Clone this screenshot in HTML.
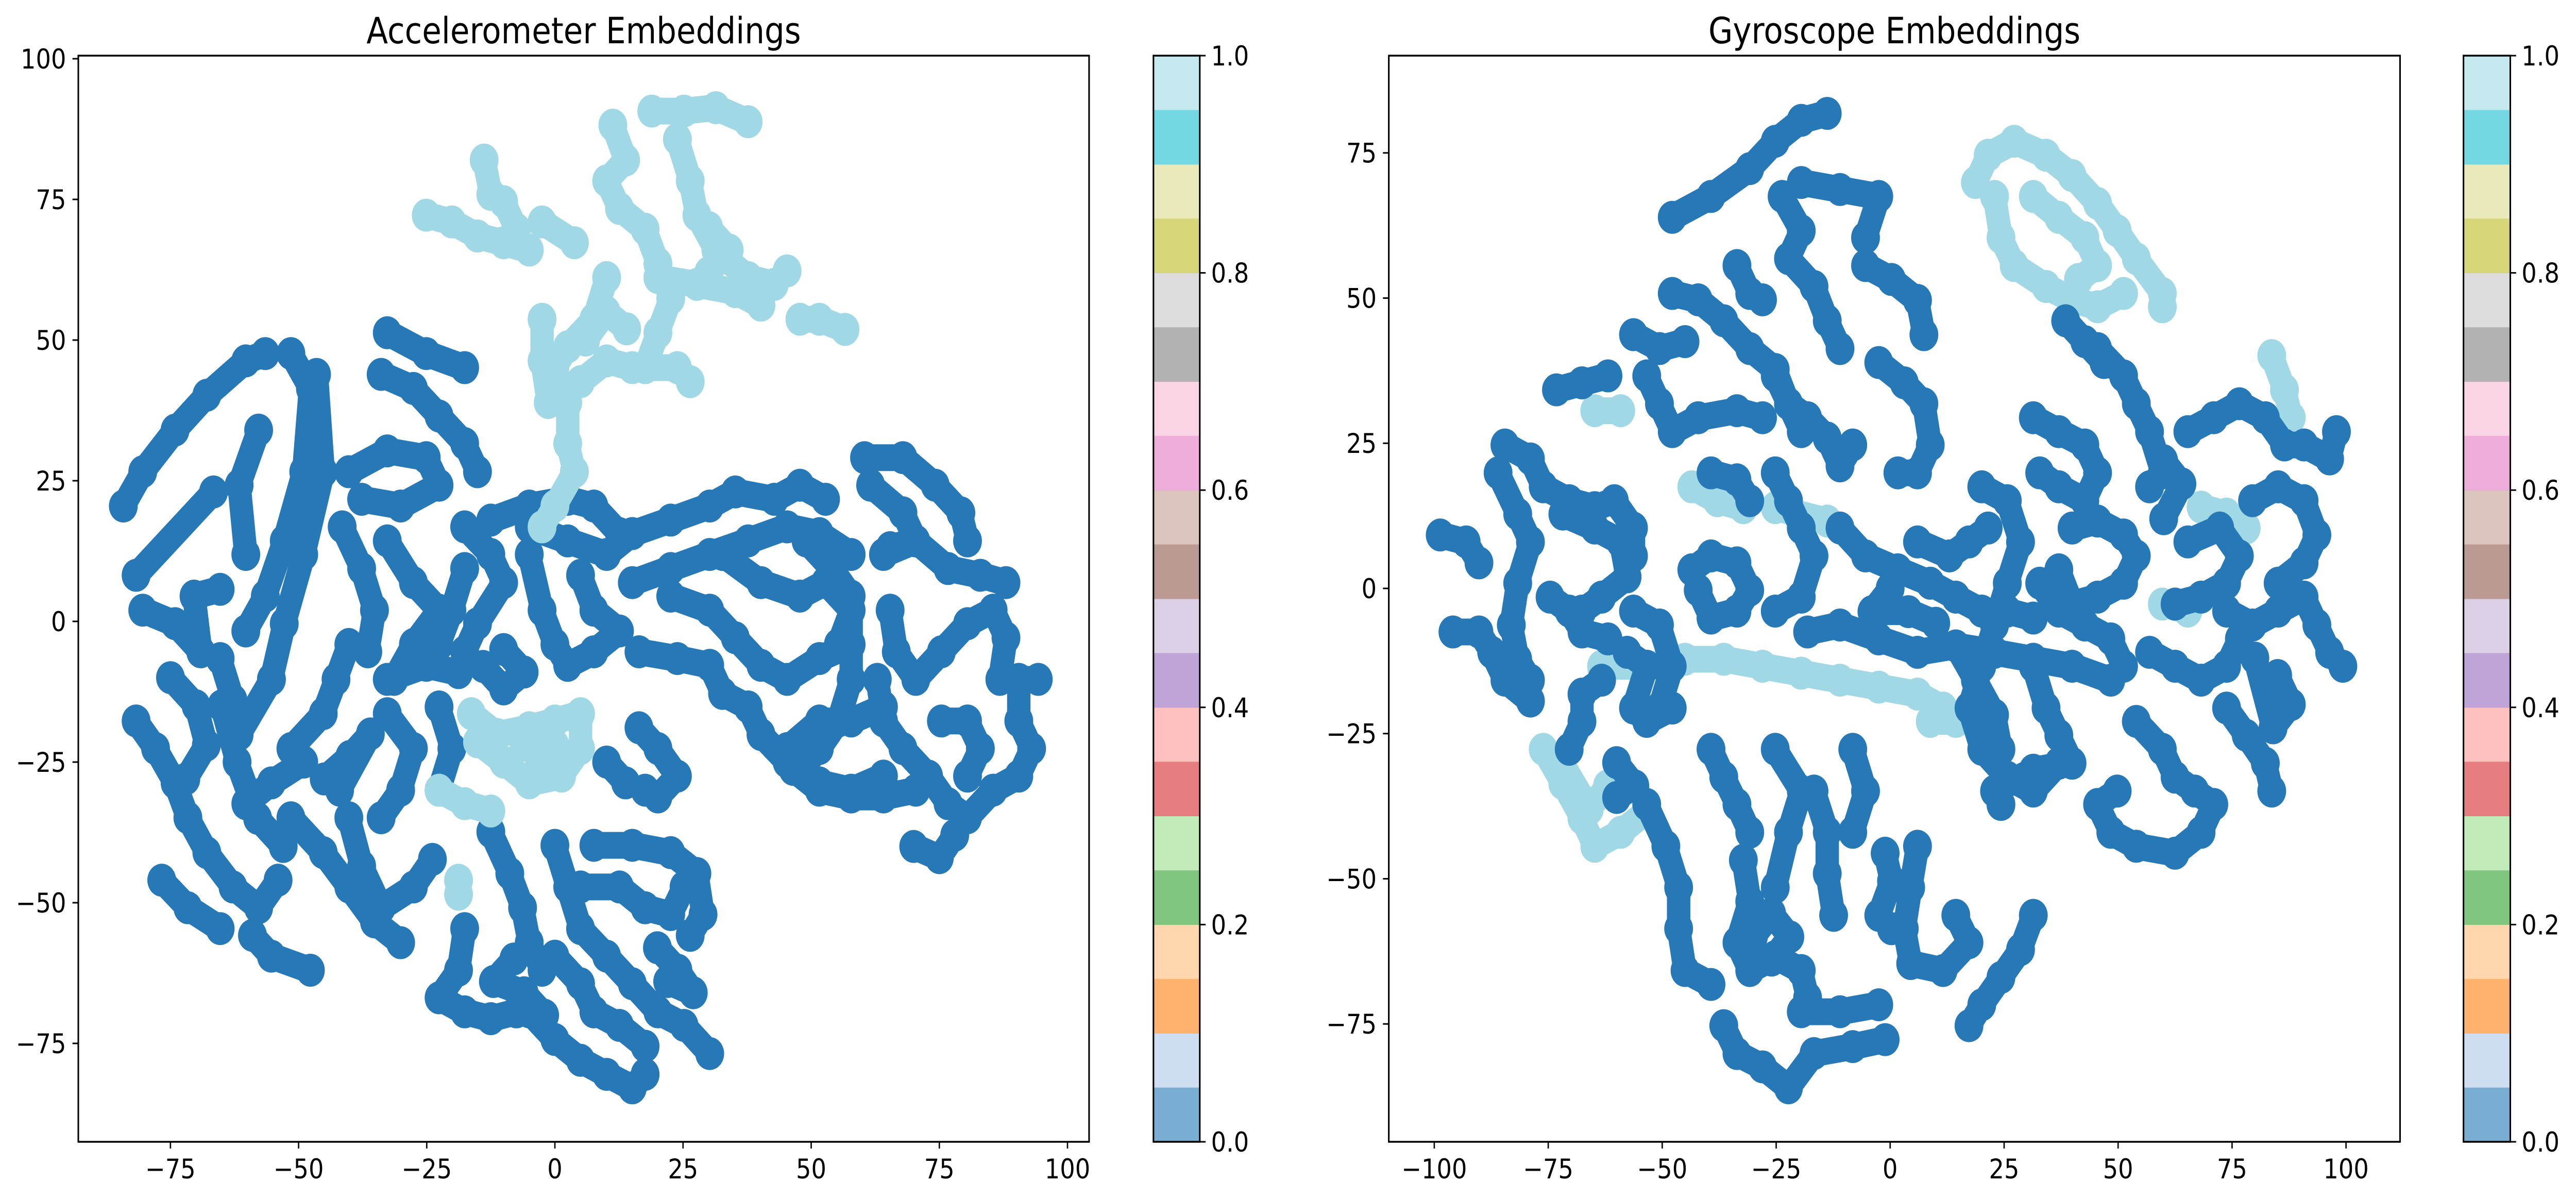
<!DOCTYPE html>
<html><head><meta charset="utf-8"><style>
html,body{margin:0;padding:0;background:#fff;width:100%;height:100%;overflow:hidden;}
svg{display:block;width:100vw;height:100vh;}
svg text{font-family:"DejaVu Sans","Liberation Sans",sans-serif;fill:#000;}
</style></head><body>
<svg id="fig" xmlns="http://www.w3.org/2000/svg" viewBox="0 0 5724 2327" preserveAspectRatio="none">
<rect x="0" y="0" width="5724" height="2327" fill="#fff"/>
<g id="left"></g>
<g id="right"></g>
</svg>
<script>
// ---- data ----
const leftXTicks=[-75,-50,-25,0,25,50,75,100];
const leftYTicks=[-75,-50,-25,0,25,50,75,100];
const rightXTicks=[-100,-75,-50,-25,0,25,50,75,100];
const rightYTicks=[-75,-50,-25,0,25,50,75];
const cbTicks=[0.0,0.2,0.4,0.6,0.8,1.0];
const cbColors=["#1f77b4","#aec7e8","#ff7f0e","#ffbb78","#2ca02c","#98df8a","#d62728","#ff9896","#9467bd","#c5b0d5","#8c564b","#c49c94","#e377c2","#f7b6d2","#7f7f7f","#c7c7c7","#bcbd22","#dbdb8d","#17becf","#9edae5"];
const accDark=[
[[-84.2,20.5],[-80.4,26.6],[-74.1,34],[-67.9,40.2],[-60.3,46.3],[-56.5,47.6]],
[[-51.5,47.6],[-47.7,41.4],[-49,26.6],[-52.8,14.3],[-56.5,4.5],[-60.3,-1.7]],
[[-81.7,8.2],[-66.6,23]],
[[-57.8,34],[-61.6,24.2],[-60.3,11.9]],
[[-46.5,43.9],[-45.2,26.6],[-49,11.9],[-52.8,-0.4],[-55.3,-10.3]],
[[-80.4,2],[-74.1,-0.4],[-69.1,-5.4],[-70.4,4.5],[-65.3,5.7]],
[[-81.7,-17.7],[-77.9,-22.6],[-74.1,-28.7],[-71.6,-34.9],[-67.9,-41.1],[-62.8,-47.2],[-57.8,-50.9],[-54,-46]],
[[-76.7,-46],[-71.6,-50.9],[-65.3,-54.6]],
[[-59,-55.8],[-55.3,-59.5],[-47.7,-62]],
[[-65.3,-6.6],[-62.8,-14],[-61.6,-20.1],[-55.3,-10.3]],
[[-51.5,-22.6],[-45.2,-16.4],[-42.7,-10.3],[-40.2,-4.1]],
[[-51.5,-34.9],[-45.2,-41.1],[-40.2,-47.2],[-35.2,-53.4],[-30.1,-57.1]],
[[-60.3,-32.4],[-55.3,-28.7],[-49,-25]],
[[-40.2,-34.9],[-37.7,-43.5],[-33.9,-50.9],[-27.6,-47.2],[-23.9,-42.3]],
[[-32.7,51.3],[-25.1,47.6],[-17.6,45.1]],
[[-33.9,43.9],[-27.6,41.4],[-22.6,36.5],[-17.6,31.6],[-15.1,26.6]],
[[-40.2,26.6],[-32.7,30.3],[-25.1,29.1],[-22.6,24.2],[-30.1,20.5],[-37.7,21.7]],
[[-41.5,16.8],[-37.7,9.4],[-35.2,2],[-36.5,-5.4]],
[[-32.7,14.3],[-27.6,6.9],[-22.6,2],[-27.6,-4.1],[-31.4,-10.3]],
[[-32.7,-10.3],[-25.1,-7.8],[-18.8,-9.1]],
[[-17.6,16.8],[-12.5,11.9],[-10,6.9],[-15.1,-0.4],[-17.6,-5.4]],
[[-5,11.9],[-2.5,2],[0,-4.1],[2.5,-7.8]],
[[-5,16.8],[2.5,14.3],[10.1,11.9],[15.1,15.6]],
[[5,8.2],[7.6,2],[12.6,-1.7],[7.6,-5.4],[2.5,-7.8]],
[[15.1,15.6],[22.6,18],[30.2,20.5],[35.2,23],[42.8,21.7],[47.8,24.2],[52.8,21.7]],
[[15.1,6.9],[22.6,9.4],[30.2,11.9],[37.7,14.3],[45.3,16.8],[51.6,15.6],[57.8,11.9]],
[[16.4,-5.4],[23.9,-6.6],[30.2,-7.8],[32.7,-12.8],[37.7,-15.2],[40.2,-20.1],[45.3,-25],[51.6,-28.7],[57.8,-30],[64.1,-27.5]],
[[22.6,4.5],[30.2,2],[35.2,-2.9],[40.2,-7.8],[45.3,-10.3],[51.6,-6.6],[57.8,-4.1]],
[[32.7,11.9],[40.2,6.9],[47.8,4.5],[52.8,6.9],[57.8,2],[55.3,-4.1]],
[[49,14.3],[54,9.4],[57.8,4.5],[57.8,-10.3],[55.3,-17.7],[51.6,-22.6],[47.8,-26.3]],
[[60.4,29.1],[67.9,29.1],[74.2,24.2],[79.2,19.3],[80.5,14.3]],
[[61.6,24.2],[67.9,19.3],[70.4,14.3],[65.4,13.1]],
[[64.1,11.9],[70.4,14.3],[76.7,9.4],[83,8.2],[88,6.9]],
[[65.4,2],[66.6,-5.4],[70.4,-10.3],[75.4,-5.4],[80.5,-0.4],[85.5,2],[88,-2.9],[86.8,-10.3],[94.3,-10.3]],
[[62.9,-10.3],[64.1,-17.7],[67.9,-22.6],[72.9,-27.5],[76.7,-32.4],[80.5,-34.9],[85.5,-30],[90.5,-27.5],[93,-22.6],[90.5,-17.7],[90.5,-10.3]],
[[75.4,-17.7],[80.5,-17.7],[83,-22.6],[80.5,-27.5]],
[[46.5,-26.3],[51.6,-30],[57.8,-31.2],[64.1,-31.2],[70.4,-30]],
[[45.3,-22.6],[51.6,-17.7],[57.8,-17.7],[64.1,-15.2]],
[[-12.5,-37.4],[-8.8,-44.8],[-6.3,-50.9],[-5,-57.1],[-2.5,-62]],
[[0,-39.8],[2.5,-47.2],[5,-54.6],[10.1,-59.5],[15.1,-64.4],[20.1,-69.4],[25.2,-71.8],[30.2,-76.8]],
[[7.6,-39.8],[15.1,-39.8],[22.6,-41.1],[27.7,-44.8],[28.9,-52.1],[26.4,-55.8]],
[[5,-47.2],[12.6,-47.2],[17.6,-50.9],[22.6,-52.1],[25.2,-47.2]],
[[-17.6,-54.6],[-18.8,-62],[-22.6,-66.9],[-17.6,-69.4],[-12.5,-70.6],[-7.5,-69.4]],
[[-5,-69.4],[0,-74.3],[5,-78],[10.1,-80.5],[15.1,-82.9],[17.6,-80.5]],
[[0,-59.5],[5,-64.4],[7.6,-69.4],[12.6,-71.8],[17.6,-75.5]],
[[16.4,-18.9],[20.1,-22.6],[23.9,-27.5],[20.1,-31.2],[17.6,-30]],
[[10.1,-25],[13.8,-28.7]],
[[-32.7,-16.4],[-27.6,-22.6],[-30.1,-30],[-33.9,-34.9]],
[[-22.6,-15.2],[-20.1,-22.6],[-22.6,-30]],
[[-17.6,9.4],[-20.1,2],[-22.6,-4.1]],
[[-12.5,18],[-5,20.5],[2.5,21.7],[7.6,20.5],[12.6,15.6]],
[[-75,-10],[-70,-15],[-68,-22],[-72,-28]],
[[-45,-28],[-40,-24],[-36,-20],[-42,-30]],
[[-10,-5],[-6,-9],[-10,-12],[-14,-8]],
[[70,-40],[75,-42],[78,-38]],
[[-8,-60],[-12,-64],[-6,-66],[-2,-70]],
[[20,-58],[24,-62],[27,-66],[22,-64]],
[[-65,-15],[-62,-25],[-58,-35],[-53,-40]]
];
const accLight=[
[[-25.1,72.2],[-20.1,71],[-15.1,68.5],[-10,67.3],[-5,66]],
[[-13.8,82],[-12.5,75.9],[-10,74.6],[-7.5,69.7]],
[[-2.5,71],[3.8,67.3]],
[[18.9,90.7],[25.2,90.7],[31.4,91.3],[37.7,88.8]],
[[11.3,88.2],[13.8,82],[10.1,78.3],[12.6,73.4],[17.6,69.7],[20.1,63.6],[22.6,57.4],[20.1,51.3],[17.6,45.1]],
[[23.9,85.7],[26.4,78.3],[27.7,72.2],[31.4,66],[37.7,61.1],[42.8,59.9],[45.3,62.3]],
[[20.1,61.1],[27.7,59.9],[35.2,58.6],[40.2,56.2]],
[[47.8,53.7],[51.6,53.7],[56.6,51.9]],
[[10.1,61.1],[7.6,53.7],[2.5,48.8],[0,45.1],[2.5,38.9],[2.5,31.6],[3.8,26.6],[0,20.5],[-2.5,16.8]],
[[-2.5,53.7],[-2.5,46.3],[-1.3,38.9],[5,42.6],[10.1,46.3],[15.1,45.1],[23.9,45.1],[26.4,42.6]],
[[-16.3,-16.4],[-11.3,-20.1],[-5,-18.9],[0,-17.7],[5,-16.4],[5,-22.6],[1.3,-27.5],[-5,-28.7],[-10,-25],[-15.1,-21.4]],
[[-22.6,-30],[-17.6,-32.4],[-12.5,-33.7]],
[[-18.8,-46],[-18.8,-48.5]],
[[-6,-22],[0,-22],[-3,-25]],
[[6,50],[10,55],[14,52]],
[[30,62],[34,66],[30,70]]
];
const gyroDark=[
[[-47.8,63.9],[-39.3,67.5],[-30.8,72.3],[-25.2,77],[-19.5,80.6],[-13.8,81.8]],
[[-23.7,67.5],[-19.5,61.6],[-22.3,56.8],[-16.7,52],[-13.8,46.1],[-11,41.3]],
[[-19.5,69.9],[-11,68.7],[-2.5,67.5],[-5.4,60.4]],
[[-5.4,55.6],[0.3,53.2],[6,49.6],[7.4,43.7]],
[[-47.8,50.8],[-42.1,49.7],[-36.5,46.1],[-30.8,41.3],[-25.2,37.7],[-22.3,31.8],[-19.5,27]],
[[-33.6,55.6],[-30.8,50.8],[-28,49.7]],
[[-56.3,43.7],[-50.6,41.3],[-45,42.5]],
[[-73.2,34.2],[-67.6,35.4],[-61.9,36.6]],
[[-84.5,24.7],[-78.9,22.3],[-76.1,17.5],[-70.4,15.1],[-64.8,13.9],[-60.5,15.1],[-56.3,10.4],[-56.3,5.6]],
[[-86,19.9],[-81.7,12.8],[-78.9,8],[-81.7,0.9],[-83.1,-6.3],[-81.7,-12.2],[-78.9,-15.8]],
[[-98.7,9.2],[-93,8],[-90.2,4.4]],
[[-95.9,-7.5],[-90.2,-7.5],[-87.4,-11],[-84.5,-15.8],[-78.9,-19.4]],
[[-71.8,12.8],[-64.8,10.4],[-59.1,8],[-57.7,2],[-63.3,-1.5],[-67.6,-3.9]],
[[-74.6,-1.5],[-70.4,-3.9],[-67.6,-7.5],[-61.9,-8.7]],
[[-53.4,-37.2],[-49.2,-44.4],[-46.4,-51.5],[-46.4,-58.6],[-45,-65.8],[-39.3,-68.2]],
[[-70.4,-27.7],[-67.6,-22.9],[-67.6,-18.2],[-63.3,-15.8]],
[[-57.7,-11],[-53.4,-13.4],[-56.3,-20.6],[-53.4,-22.9],[-47.8,-20.6]],
[[-56.3,-3.9],[-50.6,-6.3],[-47.8,-13.4],[-50.6,-20.6]],
[[-43.5,3.2],[-39.3,5.6],[-33.6,4.4],[-30.8,-0.3],[-33.6,-3.9],[-39.3,-5.1],[-42.1,-0.3]],
[[-53.4,36.6],[-50.6,31.8],[-47.8,27],[-42.1,29.4],[-33.6,30.6],[-28,29.4]],
[[-25.2,36.6],[-22.3,31.8],[-18.1,29.4],[-13.8,25.9],[-11,21.1],[-8.2,24.7]],
[[-2.5,38.9],[3.1,35.4],[7.4,31.8],[8.8,24.7],[6,19.9],[1.7,19.9]],
[[-39.3,19.9],[-33.6,18.7],[-30.8,15.1]],
[[-25.2,19.9],[-22.3,15.1],[-19.5,10.4],[-16.7,5.6],[-19.5,-1.5],[-25.2,-3.9]],
[[-11,10.4],[-5.4,5.6],[1.7,3.2],[8.8,0.9],[14.4,-1.5],[20.1,-3.9],[25.7,-3.9],[31.4,-5.1]],
[[-18.1,-7.5],[-11,-6.3],[-2.5,-8.7],[6,-11],[14.4,-9.9],[22.9,-11],[31.4,-12.2],[39.9,-13.4],[48.4,-15.8]],
[[20.1,17.5],[25.7,15.1],[28.6,8],[25.7,0.9],[22.9,-6.3],[20.1,-13.4],[17.3,-20.6],[20.1,-27.7],[25.7,-32.5],[31.4,-34.9],[37,-30.1]],
[[31.4,29.4],[37,27],[42.7,24.7],[45.5,19.9],[42.7,15.1],[37,17.5],[32.8,19.9]],
[[45.5,41.3],[51.2,36.6],[54,31.8],[56.9,27],[59.7,19.9],[56.9,17.5]],
[[38.5,46.1],[42.7,42.5],[46.9,38.9]],
[[39.9,10.4],[45.5,11.6],[51.2,9.2],[54,5.6],[51.2,0.9],[45.5,-1.5],[39.9,-2.7],[37,3.2]],
[[32.8,0.9],[37,-3.9],[42.7,-6.3],[48.4,-8.7],[51.2,-13.4]],
[[31.4,-13.4],[34.2,-20.6],[37,-25.3],[39.9,-30.1],[31.4,-31.3],[22.9,-34.9],[24.3,-37.2]],
[[54,-22.9],[59.7,-27.7],[62.5,-32.5],[66.8,-34.9],[71,-37.2],[68.2,-42],[62.5,-45.6],[54,-44.4],[48.4,-42],[45.5,-37.2],[49.8,-34.9]],
[[56.9,-11],[62.5,-13.4],[68.2,-15.8],[73.8,-13.4],[76.6,-8.7]],
[[65.3,27],[71,29.4],[76.6,31.8],[82.3,29.4],[86.5,24.7],[90.8,24.7],[96.4,22.3],[97.9,27]],
[[65.3,8],[72.3,10.4],[76.6,5.6],[73.8,0.9],[68.2,-1.5],[62.5,-2.7]],
[[73.8,-3.9],[79.5,-6.3],[85.1,-3.9],[90.8,-1.5],[93.6,-6.3],[96.4,-11],[99.3,-13.4]],
[[79.5,15.1],[85.1,17.5],[90.8,15.1],[93.6,9.2],[90.8,4.4],[85.1,0.9]],
[[73.8,-20.6],[78.1,-25.3],[82.3,-30.1],[83.7,-34.9]],
[[-32.2,-46.8],[-30.8,-53.9],[-33.6,-61],[-30.8,-65.8],[-25.2,-63.4],[-19.5,-65.8],[-18.1,-70.5]],
[[-36.5,-75.3],[-33.6,-80.1],[-28,-82.4],[-22.3,-86],[-16.7,-80.1],[-8.2,-78.9],[-1.1,-77.7]],
[[-19.5,-72.9],[-11,-72.9],[-2.5,-71.7]],
[[-16.7,-34.9],[-13.8,-42],[-13.8,-49.1],[-12.4,-56.3]],
[[-25.2,-27.7],[-19.5,-34.9],[-22.3,-42],[-25.2,-51.5]],
[[-8.2,-27.7],[-5.4,-34.9],[-8.2,-42]],
[[6,-44.4],[4.5,-51.5],[3.1,-58.6],[4.5,-64.6],[11.6,-65.8],[17.3,-61],[14.4,-56.3]],
[[31.4,-56.3],[28.6,-62.2],[24.3,-67],[20.1,-71.7],[17.3,-75.3]],
[[-1.1,-45.6],[0.3,-50.4],[-2.5,-56.3],[0.3,-58.6]],
[[-39.3,-27.7],[-36.5,-32.5],[-33.6,-37.2],[-30.8,-42]],
[[6,8],[13,5.6],[17.3,8],[21.5,10.4]],
[[14.4,-9.9],[18.7,-15.8],[22.9,-21.8],[24.3,-27.7]],
[[-30,-60],[-26,-56],[-22,-60],[-26,-64]],
[[0,0],[-4,-4],[4,-4],[10,-6]],
[[60,12],[64,18],[60,22]],
[[85,-15],[88,-20],[84,-24],[80,-12]],
[[-60,-30],[-56,-34],[-60,-36]]
];
const gyroLight=[
[[18.7,69.9],[21.5,74.6],[27.2,77],[34.2,74.6],[39.9,71.1],[45.5,66.3],[49.8,61.6],[54,56.8],[59.7,50.8],[59.7,48.5]],
[[22.9,67.5],[24.3,60.4],[27.2,55.6],[34.2,52],[39.9,49.7],[45.5,48.5],[51.2,50.8]],
[[31.4,67.5],[37,63.9],[42.7,60.4],[45.5,55.6],[41.3,53.2]],
[[-64.8,30.6],[-59.1,30.6]],
[[-43.5,17.5],[-37.9,15.1],[-32.2,13.9]],
[[-25.2,13.9],[-13.8,11.6]],
[[-76.1,-27.7],[-71.8,-33.6],[-67.6,-39.6],[-64.8,-44.4],[-59.1,-42],[-53.4,-38.4]],
[[-63.3,-13.4],[-53.4,-13.4],[-45,-12.2],[-36.5,-12.2],[-28,-13.4],[-19.5,-14.6],[-11,-15.8],[-2.5,-17],[6,-18.2],[11.6,-20.6]],
[[83.7,40.1],[86.5,34.2],[88,29.4]],
[[68.2,14],[73.8,12.8],[78.1,10.4]],
[[59.7,-2.7],[65.3,-3.9]],
[[8.8,-22.9],[14.4,-22.9]],
[[-72,-30],[-66,-38],[-62,-34]]
];
// ---- drawing ----
const NS="http://www.w3.org/2000/svg";
function mk(tag,attrs,parent){const e=document.createElementNS(NS,tag);for(const k in attrs)e.setAttribute(k,attrs[k]);parent.appendChild(e);return e;}
const DARK="#2679b6", LIGHT="#a0d9e5";
function panel(g,cfg){
  const {L,T,R,B,x0,xs,y0,ys,xt,yt,title,cbL,cbR,sets,prefix}=cfg;
  const X=v=>x0+xs*v, Y=v=>y0-ys*v;
  const plot=mk('g',{},g);
  
  
  sets.forEach(([strands,color,label])=>{
    strands.forEach((s,i)=>{
      const pts=s.map(p=>X(p[0]).toFixed(1)+','+Y(p[1]).toFixed(1)).join(' ');
      const pl=mk('polyline',{points:pts,fill:'none',stroke:color,'stroke-width':52,'stroke-linecap':'round','stroke-linejoin':'round'},plot);
      
      
      s.forEach(p=>{
        const c=mk('circle',{cx:X(p[0]).toFixed(1),cy:Y(p[1]).toFixed(1),r:32,fill:color},plot);
        
        
      });
    });
  });
  const fr=mk('rect',{x:L,y:T,width:R-L,height:B-T,fill:'none',stroke:'#000','stroke-width':3.5},g);
  
  
  xt.forEach(v=>{
    mk('line',{x1:X(v),x2:X(v),y1:B,y2:B+13,stroke:'#000','stroke-width':3},g);
    const t=mk('text',{x:X(v),y:2287,'font-size':53,'text-anchor':'middle'},g);
    t.textContent=(v<0?'\u2212'+Math.abs(v):String(v));
    
    
  });
  yt.forEach(v=>{
    mk('line',{x1:L-13,x2:L,y1:Y(v),y2:Y(v),stroke:'#000','stroke-width':3},g);
    const t=mk('text',{x:L-27,y:Y(v)+19,'font-size':53,'text-anchor':'end'},g);
    t.textContent=(v<0?'\u2212'+Math.abs(v):String(v));
    
    
  });
  const tt=mk('text',{x:(L+R)/2,y:84,'font-size':70,'text-anchor':'middle'},g);
  tt.textContent=title;
  
  
  const cb=mk('g',{},g);
  
  
  const h=(B-T)/cbColors.length;
  cbColors.forEach((c,i)=>{
    const r=mk('rect',{x:cbL,y:B-(i+1)*h,width:cbR-cbL,height:h+0.5,fill:c,'fill-opacity':0.6},cb);
    
    
  });
  mk('rect',{x:cbL,y:T,width:cbR-cbL,height:B-T,fill:'none',stroke:'#000','stroke-width':3.5},cb);
  cbTicks.forEach(v=>{
    const yy=B-(B-T)*v;
    mk('line',{x1:cbR,x2:cbR+13,y1:yy,y2:yy,stroke:'#000','stroke-width':3},cb);
    const t=mk('text',{x:cbR+25,y:yy+19,'font-size':53},cb);
    t.textContent=v.toFixed(1);
    
    
  });
}
panel(document.getElementById('left'),{L:174,T:108,R:2420,B:2216,x0:1233,xs:11.39,y0:1206,ys:10.92,xt:leftXTicks,yt:leftYTicks,title:'Accelerometer Embeddings',cbL:2563,cbR:2666,prefix:'accelerometer',sets:[[accDark,DARK,'class-0'],[accLight,LIGHT,'class-1']]});
panel(document.getElementById('right'),{L:3086,T:108,R:5333,B:2216,x0:4200,xs:10.13,y0:1142,ys:11.27,xt:rightXTicks,yt:rightYTicks,title:'Gyroscope Embeddings',cbL:5474,cbR:5578,prefix:'gyroscope',sets:[[gyroLight,LIGHT,'class-1'],[gyroDark,DARK,'class-0']]});
</script>
</body></html>
